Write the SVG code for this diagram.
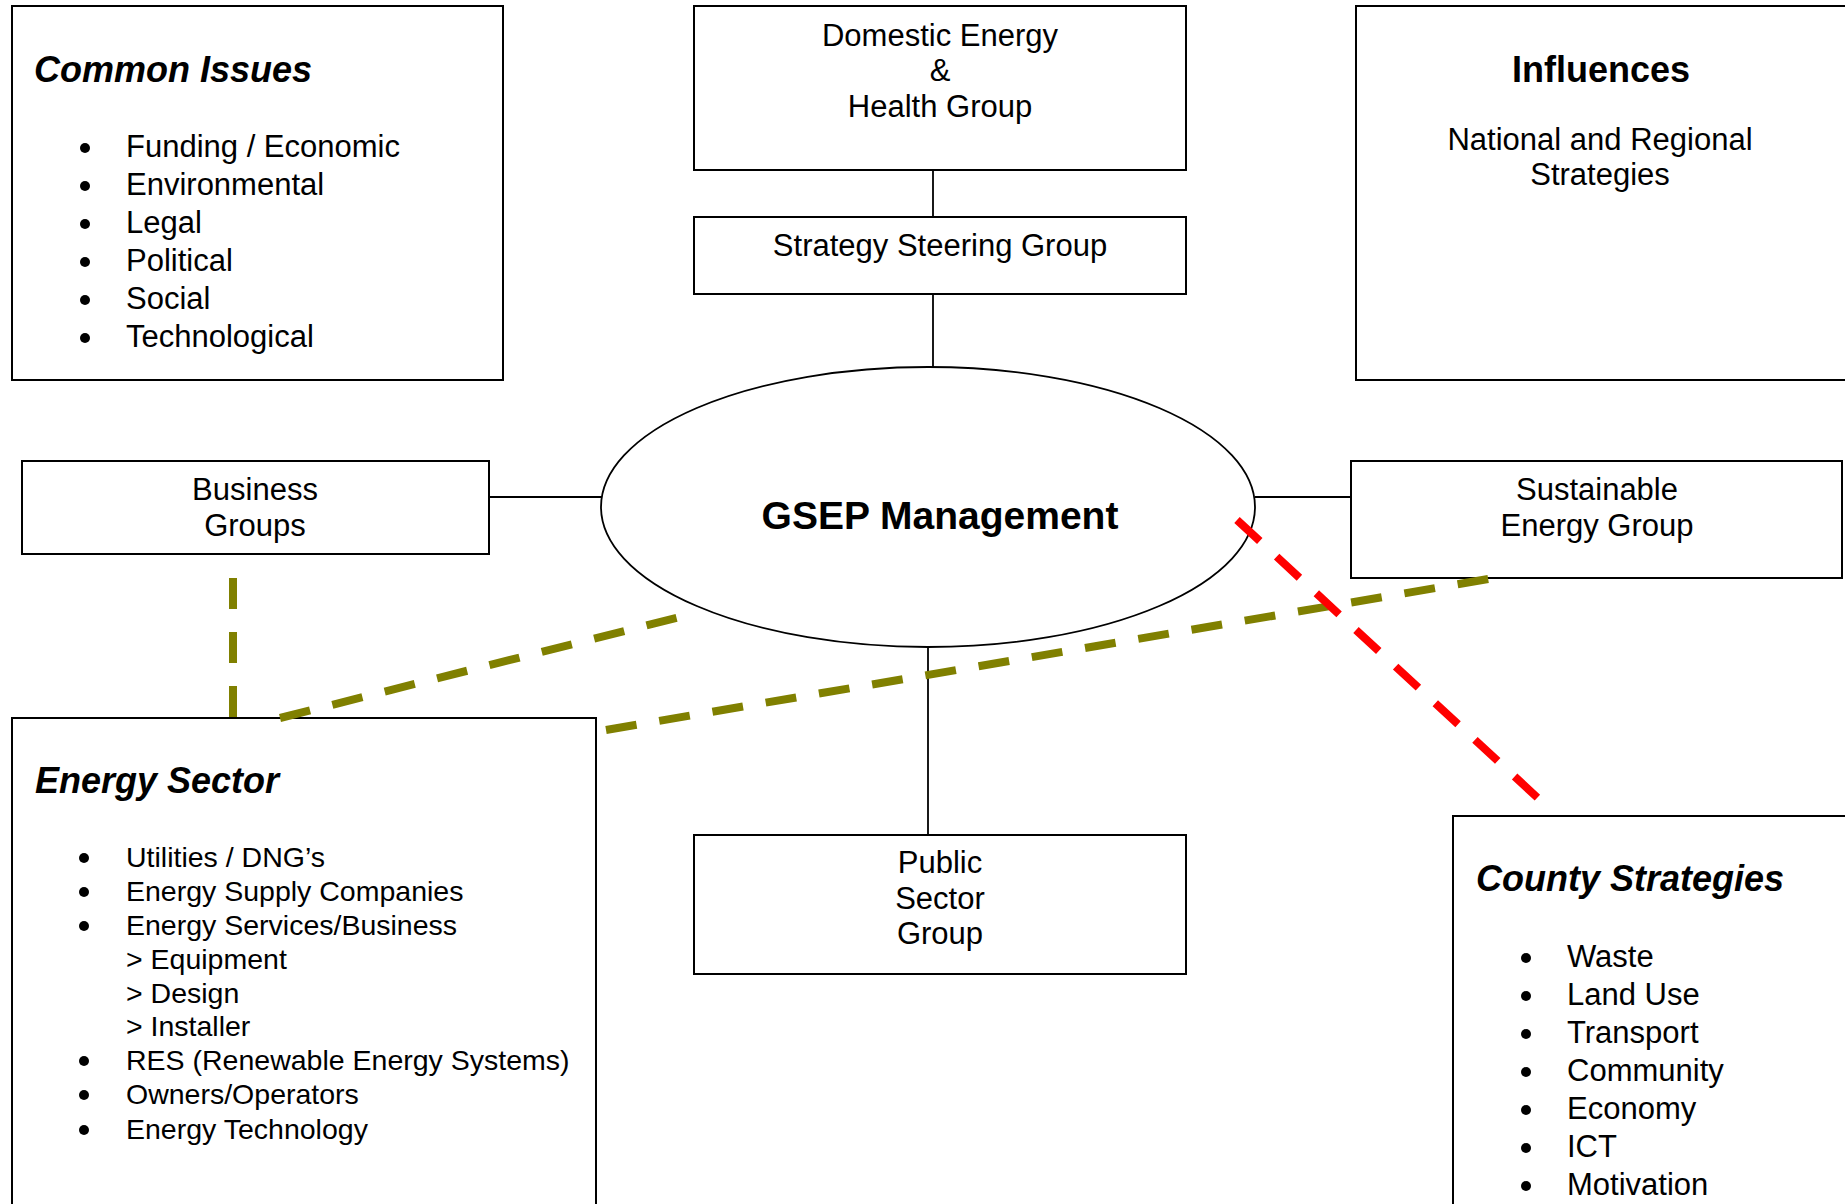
<svg xmlns="http://www.w3.org/2000/svg" width="1845" height="1204" viewBox="0 0 1845 1204">
<style>
.box{fill:#fff;stroke:#000;stroke-width:2}
.ell{fill:#fff;stroke:#000;stroke-width:1.8}
.t{font-family:"Liberation Sans",Arial,sans-serif;font-size:31px;fill:#000}
.c{text-anchor:middle}
.h{font-family:"Liberation Sans",Arial,sans-serif;font-size:36px;font-weight:bold;font-style:italic;fill:#000}
.hb{font-family:"Liberation Sans",Arial,sans-serif;font-size:36px;font-weight:bold;fill:#000}
.es{font-family:"Liberation Sans",Arial,sans-serif;font-size:28.5px;fill:#000}
.ln{stroke:#000;stroke-width:1.8;fill:none}
.ol{stroke:#808000;stroke-width:8;fill:none;stroke-dasharray:31 23}
.rd{stroke:#ff0000;stroke-width:8;fill:none;stroke-dasharray:31 23}
</style>
<defs>
<circle id="bul" r="5" fill="#000"/>
</defs>
<rect width="1845" height="1204" fill="#fff"/>
<g id="connectors">
<line class="ln" x1="933" y1="170" x2="933" y2="217"/>
<line class="ln" x1="933" y1="294" x2="933" y2="367"/>
<line class="ln" x1="489" y1="497" x2="606" y2="497"/>
<line class="ln" x1="1255" y1="497" x2="1351" y2="497"/>
<line class="ln" x1="928" y1="647" x2="928" y2="835"/>
</g>
<g id="common-issues">
<rect class="box" x="12" y="6" width="491" height="374"/>
<text class="h" x="34" y="82">Common Issues</text>
<use href="#bul" x="85" y="148"/><use href="#bul" x="85" y="186"/><use href="#bul" x="85" y="224"/>
<use href="#bul" x="85" y="262"/><use href="#bul" x="85" y="300"/><use href="#bul" x="85" y="338"/>
<g class="t">
<text x="126" y="157">Funding / Economic</text>
<text x="126" y="195">Environmental</text>
<text x="126" y="233">Legal</text>
<text x="126" y="271">Political</text>
<text x="126" y="309">Social</text>
<text x="126" y="347">Technological</text>
</g>
</g>
<g id="domestic-energy">
<rect class="box" x="694" y="6" width="492" height="164"/>
<text class="t c" x="940" y="46">Domestic Energy</text>
<text class="t c" x="940" y="81">&amp;</text>
<text class="t c" x="940" y="117">Health Group</text>
</g>
<g id="strategy-steering">
<rect class="box" x="694" y="217" width="492" height="77"/>
<text class="t c" x="940" y="256">Strategy Steering Group</text>
</g>
<g id="influences">
<rect class="box" x="1356" y="6" width="500" height="374"/>
<text class="hb c" x="1601" y="82">Influences</text>
<text class="t c" x="1600" y="150">National and Regional</text>
<text class="t c" x="1600" y="185">Strategies</text>
</g>
<g id="business-groups">
<rect class="box" x="22" y="461" width="467" height="93"/>
<text class="t c" x="255" y="500">Business</text>
<text class="t c" x="255" y="536">Groups</text>
</g>
<g id="gsep">
<ellipse class="ell" cx="928" cy="507" rx="327" ry="140"/>
<text class="c" x="940" y="529" style="font-family:'Liberation Sans',Arial,sans-serif;font-size:39px;font-weight:bold">GSEP Management</text>
</g>
<g id="sustainable-energy">
<rect class="box" x="1351" y="461" width="491" height="117"/>
<text class="t c" x="1597" y="500">Sustainable</text>
<text class="t c" x="1597" y="536">Energy Group</text>
</g>
<g id="energy-sector">
<rect class="box" x="12" y="718" width="584" height="520"/>
<text class="h" x="35" y="793">Energy Sector</text>
<use href="#bul" x="84" y="858"/><use href="#bul" x="84" y="892"/><use href="#bul" x="84" y="926"/>
<use href="#bul" x="84" y="1061"/><use href="#bul" x="84" y="1095"/><use href="#bul" x="84" y="1130"/>
<g class="es">
<text x="126" y="867">Utilities / DNG’s</text>
<text x="126" y="901">Energy Supply Companies</text>
<text x="126" y="935">Energy Services/Business</text>
<text x="126" y="969">&gt; Equipment</text>
<text x="126" y="1003">&gt; Design</text>
<text x="126" y="1036">&gt; Installer</text>
<text x="126" y="1070">RES (Renewable Energy Systems)</text>
<text x="126" y="1104">Owners/Operators</text>
<text x="126" y="1139">Energy Technology</text>
</g>
</g>
<g id="public-sector">
<rect class="box" x="694" y="835" width="492" height="139"/>
<text class="t c" x="940" y="873">Public</text>
<text class="t c" x="940" y="909">Sector</text>
<text class="t c" x="940" y="944">Group</text>
</g>
<g id="county-strategies">
<rect class="box" x="1453" y="816" width="420" height="420"/>
<text class="h" x="1476" y="891">County Strategies</text>
<use href="#bul" x="1526" y="958"/><use href="#bul" x="1526" y="996"/><use href="#bul" x="1526" y="1034"/>
<use href="#bul" x="1526" y="1072"/><use href="#bul" x="1526" y="1110"/><use href="#bul" x="1526" y="1148"/>
<use href="#bul" x="1526" y="1186"/>
<g class="t">
<text x="1567" y="967">Waste</text>
<text x="1567" y="1005">Land Use</text>
<text x="1567" y="1043">Transport</text>
<text x="1567" y="1081">Community</text>
<text x="1567" y="1119">Economy</text>
<text x="1567" y="1157">ICT</text>
<text x="1567" y="1195">Motivation</text>
</g>
</g>
<g id="dashed-connectors">
<line class="ol" x1="233" y1="578" x2="233" y2="718"/>
<line class="ol" x1="280" y1="718" x2="680" y2="617"/>
<line class="ol" x1="606" y1="730" x2="1494" y2="578"/>
<line class="rd" x1="1237" y1="520" x2="1540" y2="800"/>
</g>
</svg>
